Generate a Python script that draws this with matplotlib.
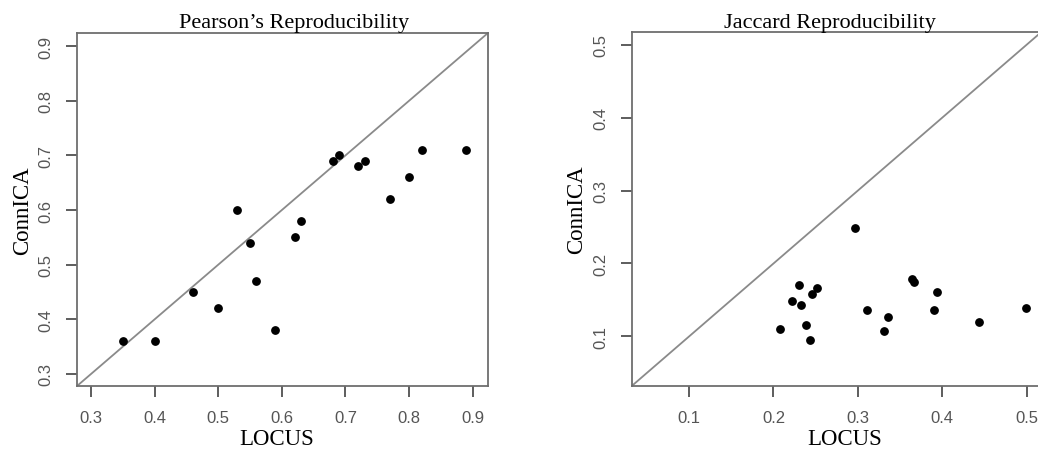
import numpy as np
import matplotlib.pyplot as plt

# Pearson's reproducibility (LOCUS vs ConnICA)
pearson_locus = [0.35, 0.40, 0.46, 0.50, 0.53, 0.55, 0.56, 0.59, 0.62,
                 0.63, 0.68, 0.69, 0.72, 0.73, 0.77, 0.80, 0.82, 0.89]
pearson_connica = [0.36, 0.36, 0.45, 0.42, 0.60, 0.54, 0.47, 0.38, 0.55,
                   0.58, 0.69, 0.70, 0.68, 0.69, 0.62, 0.66, 0.71, 0.71]

# Jaccard reproducibility
jaccard_locus = [0.297, 0.208, 0.222, 0.230, 0.232, 0.239, 0.243, 0.246, 0.252,
                 0.311, 0.331, 0.336, 0.364, 0.366, 0.390, 0.394, 0.444, 0.499]
jaccard_connica = [0.249, 0.110, 0.149, 0.170, 0.143, 0.116, 0.095, 0.158, 0.167,
                   0.136, 0.108, 0.127, 0.179, 0.175, 0.136, 0.161, 0.120, 0.139]

pearson_ticks = [0.3, 0.4, 0.5, 0.6, 0.7, 0.8, 0.9]
jaccard_ticks = [0.1, 0.2, 0.3, 0.4, 0.5]

SERIF = ['Liberation Serif', 'DejaVu Serif']
SANS = ['Liberation Sans', 'DejaVu Sans']
GREY = '#6e6e6e'


def panel(ax, x, y, lims, ticks, title, title_x, xlab_x):
    ax.plot(lims, lims, color='#8a8a8a', lw=1.3, zorder=1)
    ax.scatter(x, y, s=28, color='black', zorder=2)
    ax.set_xlim(lims)
    ax.set_ylim(lims)
    ax.set_xticks(ticks)
    ax.set_yticks(ticks)
    ax.set_xticklabels([f'{t:.1f}' for t in ticks], family=SANS, fontsize=12, color='#555555')
    ax.set_yticklabels([f'{t:.1f}' for t in ticks], family=SANS, fontsize=12, color='#555555',
                       rotation=90, va='center')
    ax.tick_params(axis='both', which='major', direction='out', length=8, width=1.3,
                   color='#505050', pad=9)
    for s in ax.spines.values():
        s.set_color(GREY)
        s.set_linewidth(1.3)
    ax.set_title(title, family=SERIF, fontsize=16, pad=4, x=title_x)
    ax.set_xlabel('LOCUS', family=SERIF, fontsize=16.5)
    ax.xaxis.set_label_coords(xlab_x, -0.12)
    ax.set_ylabel('ConnICA', family=SERIF, fontsize=16.5, labelpad=4)


fig = plt.figure(figsize=(10.38, 4.52), dpi=100)
ax1 = fig.add_axes([0.0742, 0.1438, 0.3959, 0.7810])
ax2 = fig.add_axes([0.6086, 0.1438, 0.3943, 0.7825])

panel(ax1, pearson_locus, pearson_connica, [0.278, 0.924], pearson_ticks,
      'Pearson\u2019s Reproducibility', 0.528, 0.485)
panel(ax2, jaccard_locus, jaccard_connica, [0.032, 0.517], jaccard_ticks,
      'Jaccard Reproducibility', 0.485, 0.52)

fig.savefig('out.png', dpi=100)
